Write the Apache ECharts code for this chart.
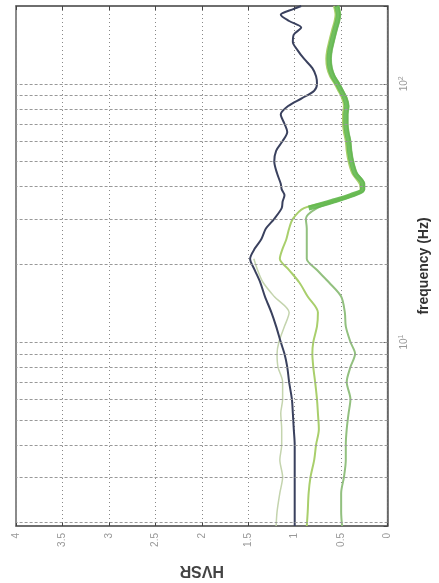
<!DOCTYPE html>
<html>
<head>
<meta charset="utf-8">
<script src="https://cdn.jsdelivr.net/npm/echarts@6/dist/echarts.min.js"></script>
<style>
  html, body { margin: 0; padding: 0; background: #fff; }
  #main { width: 439px; height: 583px; }
</style>
</head>
<body>
<div id="main"></div>
<script>
// frequency samples (Hz), shared by every curve
const freqs = [1.94, 2.2, 2.6, 3, 3.5, 4, 4.6, 5.3, 6, 7, 8, 9, 10, 11.5, 13, 15, 17, 19, 21, 23,
  25, 27.5, 30, 33, 35, 37, 39, 41, 45, 50, 55, 60, 65, 70, 76, 82, 88, 94, 100, 107,
  115, 125, 135, 145, 155, 165, 175, 185, 195, 200];

// mean H/V (dark)
const hvMean = [1.00, 1.00, 1.00, 1.00, 1.00, 1.00, 1.01, 1.02, 1.03, 1.06, 1.08, 1.11, 1.15, 1.20, 1.25, 1.32, 1.37, 1.43, 1.48, 1.43,
  1.36, 1.31, 1.22, 1.14, 1.13, 1.11, 1.14, 1.15, 1.19, 1.22, 1.20, 1.13, 1.08, 1.11, 1.15, 1.07, 0.92, 0.79, 0.76, 0.77,
  0.81, 0.90, 0.97, 1.02, 1.01, 0.93, 1.06, 1.15, 1.01, 0.93];

// pale curve, only below ~21 Hz
const hvPale = [1.20, 1.19, 1.16, 1.13, 1.16, 1.14, 1.14, 1.15, 1.13, 1.13, 1.18, 1.19, 1.17, 1.11, 1.06, 1.22, 1.34, 1.40, 1.44, null,
  null, null, null, null, null, null, null, null, null, null, null, null, null, null, null, null, null, null, null, null,
  null, null, null, null, null, null, null, null, null, null];

// yellow-green curve
const hvYellow = [0.87, 0.86, 0.85, 0.83, 0.79, 0.77, 0.74, 0.75, 0.76, 0.78, 0.80, 0.81, 0.80, 0.76, 0.75, 0.86, 0.95, 1.06, 1.16, 1.13,
  1.09, 1.06, 1.02, 0.90, 0.62, 0.41, 0.29, 0.30, 0.38, 0.42, 0.44, 0.45, 0.47, 0.48, 0.48, 0.47, 0.49, 0.53, 0.57, 0.62,
  0.65, 0.66, 0.65, 0.63, 0.61, 0.59, 0.57, 0.56, 0.57, 0.58];

// grey-green curve
const hvGrey = [0.49, 0.50, 0.50, 0.47, 0.45, 0.45, 0.44, 0.42, 0.40, 0.44, 0.40, 0.35, 0.40, 0.45, 0.46, 0.50, 0.63, 0.76, 0.87, 0.87,
  0.87, 0.87, 0.88, 0.76, 0.56, 0.36, 0.25, 0.25, 0.33, 0.37, 0.39, 0.40, 0.42, 0.43, 0.43, 0.42, 0.44, 0.48, 0.52, 0.57,
  0.60, 0.61, 0.60, 0.58, 0.56, 0.54, 0.52, 0.51, 0.52, 0.53];

// thick bright-green band where the green curves merge (33 Hz and up)
const hvBand = [null, null, null, null, null, null, null, null, null, null, null, null, null, null, null, null, null, null, null, null,
  null, null, null, 0.85, 0.60, 0.39, 0.27, 0.27, 0.35, 0.39, 0.41, 0.42, 0.44, 0.45, 0.45, 0.44, 0.46, 0.50, 0.54, 0.59,
  0.62, 0.63, 0.62, 0.60, 0.58, 0.56, 0.54, 0.53, 0.54, 0.55];

const hvsrTicks = [0, 0.5, 1, 1.5, 2, 2.5, 3, 3.5, 4];
const freqGrid = [2, 3, 4, 5, 6, 7, 8, 9, 10, 20, 30, 40, 50, 60, 70, 80, 90, 100];

function pairs(vals) {
  const out = [];
  vals.forEach((v, i) => { if (v !== null) out.push([v, freqs[i]]); });
  return out;
}

const font = "Liberation Sans";
const chart = echarts.init(document.getElementById("main"));

const xCommon = {
  type: "value",
  min: hvsrTicks[0],
  max: hvsrTicks[hvsrTicks.length - 1],
  interval: 0.5,
  inverse: true,
  axisLine: { show: true, lineStyle: { color: "#666", width: 1.5 } },
  axisTick: { show: true, inside: true, length: 4, lineStyle: { color: "#444" } }
};

const option = {
  animation: false,
  textStyle: { fontFamily: font },
  grid: { left: 16, right: 49, top: 6, bottom: 56, show: true, borderColor: "#666", borderWidth: 1.5 },
  xAxis: [
    Object.assign({}, xCommon, {
      position: "bottom",
      name: "HVSR",
      nameLocation: "middle",
      nameRotate: 180,
      nameGap: 36,
      nameTextStyle: { fontSize: 16, fontWeight: "bold", color: "#444", fontFamily: font },
      axisLabel: { rotate: 90, fontSize: 10, color: "#999", margin: 7, fontFamily: font },
      splitLine: { show: true, lineStyle: { type: [1, 3], color: "#888", width: 1 } }
    }),
    Object.assign({}, xCommon, {
      position: "top",
      axisLabel: { show: false },
      splitLine: { show: false }
    })
  ],
  yAxis: {
    type: "log",
    logBase: 10,
    min: freqs[0],
    max: freqs[freqs.length - 1],
    position: "right",
    name: "frequency (Hz)",
    nameLocation: "middle",
    nameRotate: 90,
    nameGap: 28,
    nameTextStyle: { fontSize: 14, fontWeight: "bold", color: "#333", fontFamily: font },
    axisLine: { show: true, lineStyle: { color: "#666", width: 1.5 } },
    axisTick: { show: true, inside: true, length: 4, lineStyle: { color: "#444" } },
    splitLine: { show: false },
    axisLabel: {
      rotate: 90,
      margin: 10,
      color: "#999",
      fontSize: 10,
      fontFamily: font,
      formatter: function (v) {
        const e = Math.log10(v);
        if (Math.abs(e - Math.round(e)) > 1e-6) return "";
        return "10{sup|" + Math.round(e) + "}";
      },
      rich: { sup: { fontSize: 7, color: "#999", verticalAlign: "top", padding: [0, 0, 6, 0] } }
    }
  },
  series: [
    {
      name: "pale",
      type: "line",
      data: pairs(hvPale),
      showSymbol: false,
      smooth: 0.3,
      lineStyle: { color: "#c4d4ae", width: 1.5 },
      markLine: {
        silent: true,
        symbol: ["none", "none"],
        label: { show: false },
        lineStyle: { type: [3, 2], color: "#999", width: 1 },
        data: freqGrid.map(f => ({ yAxis: f }))
      }
    },
    {
      name: "grey",
      type: "line",
      data: pairs(hvGrey),
      showSymbol: false,
      smooth: 0.3,
      lineStyle: { color: "#92c07f", width: 2 }
    },
    {
      name: "yellow",
      type: "line",
      data: pairs(hvYellow),
      showSymbol: false,
      smooth: 0.3,
      lineStyle: { color: "#a9cf6c", width: 2 }
    },
    {
      name: "band",
      type: "line",
      data: pairs(hvBand),
      showSymbol: false,
      smooth: 0.3,
      lineStyle: { color: "#62b84f", width: 5, opacity: 0.9 }
    },
    {
      name: "mean",
      type: "line",
      data: pairs(hvMean),
      showSymbol: false,
      smooth: 0.3,
      lineStyle: { color: "#3a415e", width: 2 }
    }
  ]
};

chart.setOption(option);
window.addEventListener("resize", chart.resize);
</script>
</body>
</html>
